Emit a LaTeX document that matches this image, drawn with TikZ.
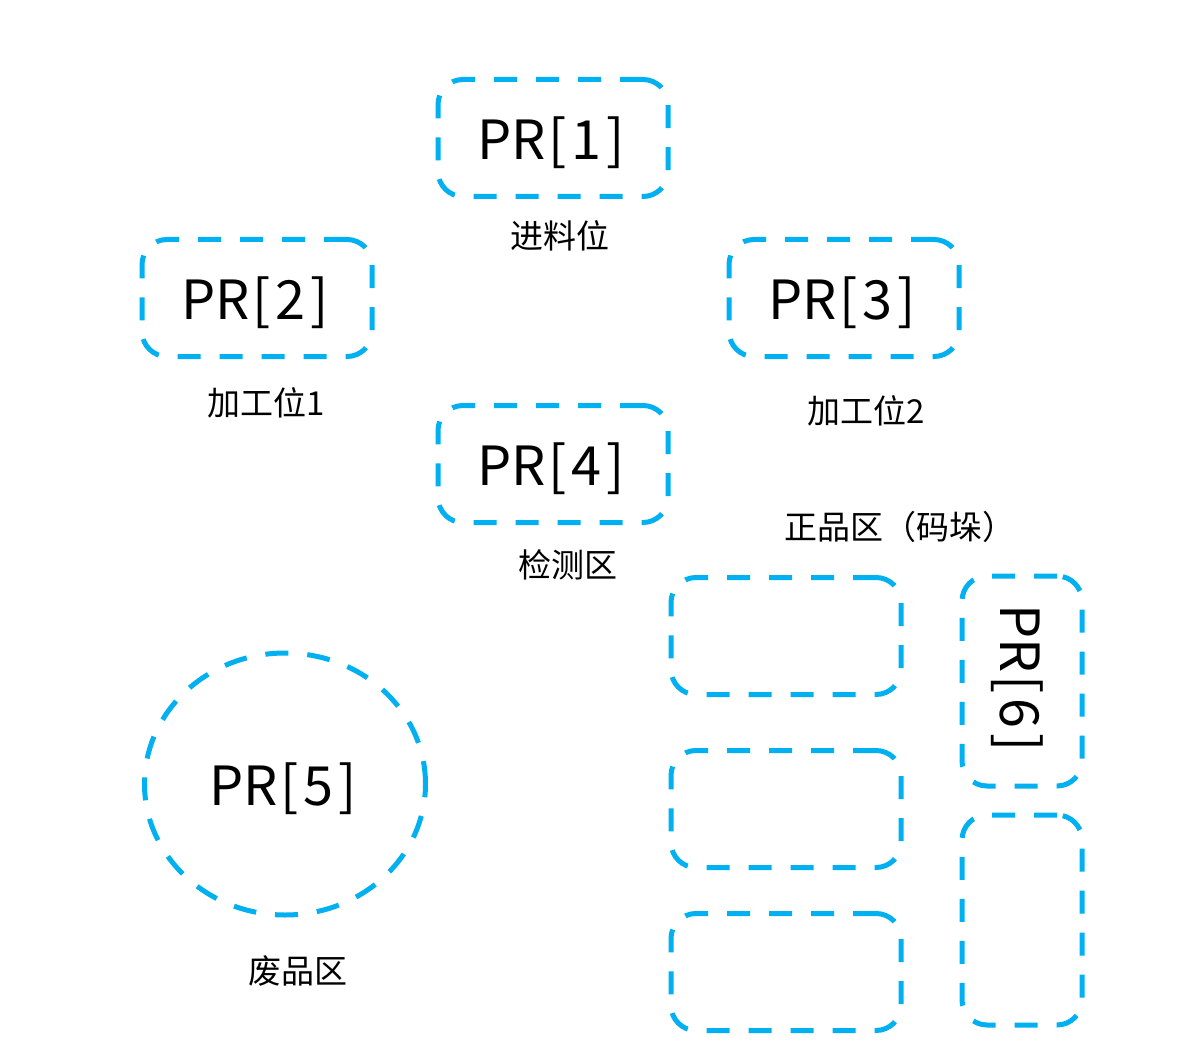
\documentclass[tikz,border=0pt]{standalone}
\usepackage{fontspec}
\setmainfont{Noto Sans CJK SC}
\usetikzlibrary{shapes.geometric}
\definecolor{zoneblue}{HTML}{00B0F0}
\newcommand{\prtag}[1]{PR\kern3pt[\kern5pt#1\kern5pt]}
\tikzset{
  zone/.style={draw=zoneblue,line width=5pt,dash pattern=on 23pt off 19pt,rounded corners=25pt,
    minimum width=230pt,minimum height=117pt,inner sep=0pt,font=\fontsize{54}{60}\selectfont},
  tallzone/.style={zone,minimum width=120pt,minimum height=210pt},
  binzone/.style={draw=zoneblue,line width=5pt,dash pattern=on 23pt off 19pt,ellipse,
    minimum width=281pt,minimum height=262pt,inner sep=0pt,font=\fontsize{54}{60}\selectfont},
  tag/.style={font=\fontsize{33}{36}\selectfont}
}
\begin{document}
\begin{tikzpicture}[x=1pt,y=-1pt]
	\useasboundingbox (0,0) rectangle (1194,1059);

	% stations
	\node (pr1) [zone] at (553,138) {};
	\node (pr2) [zone] at (257,298) {};
	\node (pr3) [zone] at (844,298) {};
	\node (pr4) [zone] at (553,464) {};
	\node (pr5) [binzone] at (285,784) {};
	\node (pr1txt) [font=\fontsize{54}{60}\selectfont] at (551,143) {\prtag{1}};
	\node (pr2txt) [font=\fontsize{54}{60}\selectfont] at (255,303) {\prtag{2}};
	\node (pr3txt) [font=\fontsize{54}{60}\selectfont] at (842,303) {\prtag{3}};
	\node (pr4txt) [font=\fontsize{54}{60}\selectfont] at (551,469) {\prtag{4}};
	\node (pr5txt) [font=\fontsize{54}{60}\selectfont] at (283,789) {\prtag{5}};

	% stacking area
	\node (stackA) [zone] at (786,636) {};
	\node (stackB) [zone] at (786,809) {};
	\node (stackC) [zone] at (786,972) {};
	\node (pr6) [tallzone] at (1022,681) {};
	\node (pr6txt) [rotate=-90,font=\fontsize{54}{60}\selectfont] at (1017,678) {\prtag{6}};
	\node (stackD) [tallzone] at (1022,920) {};

	% labels
	\node (feed) [tag] at (560,236) {进料位};
	\node (mach1) [tag] at (266,403) {加工位1};
	\node (mach2) [tag] at (866,411) {加工位2};
	\node (check) [tag] at (568,565) {检测区};
	\node (good) [tag] at (900,527) {正品区（码垛）};
	\node (scrap) [tag] at (298,971) {废品区};

\end{tikzpicture}
\end{document}
